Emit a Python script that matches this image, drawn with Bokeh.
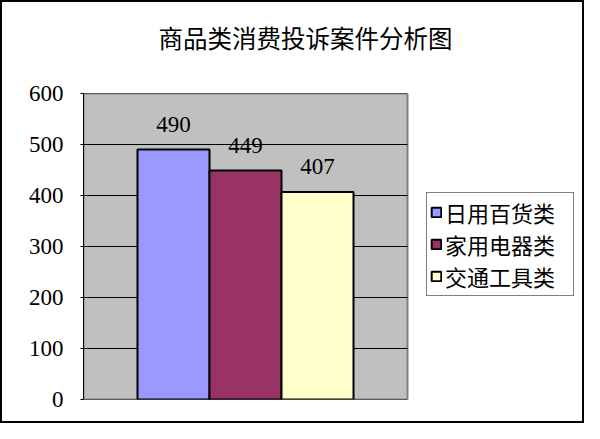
from bokeh.plotting import figure
from bokeh.models import (Range1d, SingleIntervalTicker, Legend, LegendItem,
                          ColumnDataSource, LabelSet, Title)
from bokeh.layouts import column
from bokeh.embed import file_html
from bokeh.resources import INLINE

title_text = "商品类消费投诉案件分析图"
categories = ["日用百货类", "家用电器类", "交通工具类"]
values = [490, 449, 407]
y_max = 600
y_step = 100

palette = ["#9999FF", "#993366", "#FFFFCC"]
CJK = "Noto Sans CJK SC"
NUM = "Liberation Serif"

# layout geometry (pixels)
FIG_W, FIG_H = 580, 419
B_LEFT, B_TOP, B_BOTTOM = 81, 91, 22
AREA_W = 324                     # width of the grey plot area
n = len(categories)
pad = 0.75                       # empty space either side of the bar group (in bar widths)
area_units = n + 2 * pad
px_per_unit = AREA_W / area_units
x_end = (FIG_W - B_LEFT) / px_per_unit

p = figure(width=FIG_W, height=FIG_H, output_backend="svg", toolbar_location=None,
           title=None,
           x_range=Range1d(0, x_end), y_range=Range1d(0, y_max),
           min_border_left=B_LEFT, min_border_right=0, min_border_top=B_TOP,
           min_border_bottom=B_BOTTOM)

title = Title(text=title_text, text_font=CJK, text_font_size="24.5px",
              text_font_style="normal", align="left", vertical_align="bottom",
              offset=75, standoff=10, text_color="#000000")
try:
    title.padding = dict(left=0, right=0, top=0, bottom=34)
except Exception:
    pass
p.add_layout(title, "above")

p.background_fill_color = "white"
p.border_fill_color = "white"
p.outline_line_color = None
p.xgrid.visible = False
p.ygrid.visible = False
p.xaxis.visible = False

# grey plot area with its border
p.quad(left=[0], right=[area_units], bottom=[0], top=[y_max],
       fill_color="#C0C0C0", line_color="#808080", line_width=2)

# horizontal grid lines
ticks = list(range(0, y_max + 1, y_step))
p.segment(x0=[0] * len(ticks), x1=[area_units] * len(ticks), y0=ticks, y1=ticks,
          line_color="black", line_width=1)

xs = [pad + 0.5 + i for i in range(n)]
items = []
for i, c in enumerate(categories):
    r = p.vbar(x=[xs[i]], top=[values[i]], width=1.0, fill_color=palette[i],
               line_color="black", line_width=2)
    items.append(LegendItem(label=c, renderers=[r]))

src = ColumnDataSource(dict(x=xs, val=values, txt=[str(v) for v in values]))
labels = LabelSet(x="x", y="val", text="txt", source=src, text_align="center",
                  text_baseline="bottom", y_offset=18, text_font=NUM, text_font_size="23px",
                  text_color="black")
p.add_layout(labels)

p.yaxis.ticker = SingleIntervalTicker(interval=y_step)
p.yaxis.major_label_text_font = NUM
p.yaxis.major_label_text_font_size = "23px"
p.yaxis.major_label_text_color = "black"
p.yaxis.major_tick_in = 0
p.yaxis.major_tick_out = 3
p.yaxis.major_tick_line_color = "black"
p.yaxis.minor_tick_line_color = None
p.yaxis.axis_line_color = "black"
p.yaxis.major_label_standoff = 16

legend = Legend(items=items, location=(343, 103), orientation="vertical")
legend.label_text_font = CJK
legend.label_text_font_size = "22px"
legend.label_text_color = "black"
legend.glyph_width = 12
legend.glyph_height = 12
legend.label_standoff = 3
legend.label_width = 125
legend.spacing = 0
legend.padding = 3
legend.margin = 0
legend.border_line_color = "black"
legend.border_line_width = 1
legend.background_fill_color = "white"
legend.background_fill_alpha = 1.0
p.add_layout(legend)

layout = column(p, styles={"border": "2px solid black"})

open("out.html", "w").write(file_html(layout, INLINE))
